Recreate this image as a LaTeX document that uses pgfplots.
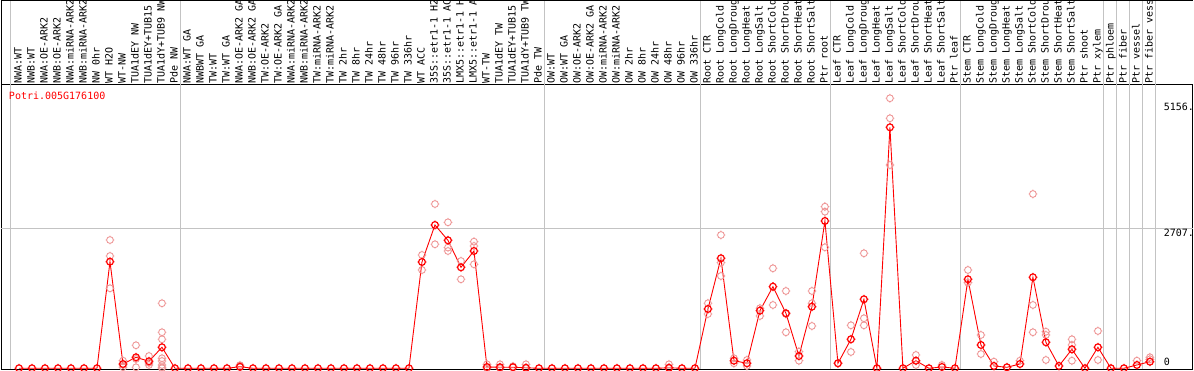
\documentclass[border=0pt]{standalone}
\usepackage{fontspec}
\setmainfont{DejaVu Sans Mono}
\usepackage{pgfplots}
\pgfplotsset{compat=1.18}
\definecolor{rep}{RGB}{238,150,150}
\definecolor{sep}{RGB}{195,195,195}
\pgfdeclareplotmark{tc}{%
  \pgfpathcircle{\pgfpointorigin}{\pgfplotmarksize}%
  \pgfpathmoveto{\pgfpoint{0pt}{\pgfplotmarksize}}\pgfpathlineto{\pgfpoint{0pt}{1.3\pgfplotmarksize}}%
  \pgfpathmoveto{\pgfpoint{0pt}{-\pgfplotmarksize}}\pgfpathlineto{\pgfpoint{0pt}{-1.3\pgfplotmarksize}}%
  \pgfpathmoveto{\pgfpoint{\pgfplotmarksize}{0pt}}\pgfpathlineto{\pgfpoint{1.3\pgfplotmarksize}{0pt}}%
  \pgfpathmoveto{\pgfpoint{-\pgfplotmarksize}{0pt}}\pgfpathlineto{\pgfpoint{-1.3\pgfplotmarksize}{0pt}}%
  \pgfusepathqstroke}
\begin{document}
\begin{tikzpicture}[font=\fontsize{10}{12}\selectfont]
\begin{axis}[at={(1.5pt,1pt)}, anchor=south west, scale only axis,
  width=1191.5pt, height=284pt,
  xmin=-1.346, xmax=90.31, ymin=-14, ymax=5490,
  axis line style={black, line width=1pt},
  ytick=\empty, xtick={0,...,87},
  xticklabels={NWA:WT,NWB:WT,NWA:OE-ARK2,NWB:OE-ARK2,NWA:miRNA-ARK2,NWB:miRNA-ARK2,NW 0hr,WT H2O,WT-NW,TUA1dEY NW,TUA1dEY+TUB15 NW,TUA1dY+TUB9 NW,Pde NW,
  NWA:WT GA,NWBWT GA,TW:WT,TW:WT GA,NWA:OE-ARK2 GA,NWB:OE-ARK2 GA,TW:OE-ARK2,TW:OE-ARK2 GA,NWA:miRNA-ARK2,NWB:miRNA-ARK2,TW:miRNA-ARK2,TW:miRNA-ARK2,TW 2hr,TW 8hr,TW 24hr,TW 48hr,TW 96hr,TW 336hr,WT ACC,35S::etr1-1 H2O,35S::etr1-1 ACC,LMX5::etr1-1 H2O,LMX5::etr1-1 ACC,WT-TW,TUA1dEY TW,TUA1dEY+TUB15 TW,TUA1dY+TUB9 TW,Pde TW,
  OW:WT,OW:WT GA,OW:OE-ARK2,OW:OE-ARK2 GA,OW:miRNA-ARK2,OW:miRNA-ARK2,OW 2hr,OW 8hr,OW 24hr,OW 48hr,OW 96hr,OW 336hr,
  Root CTR,Root LongCold,Root LongDrought,Root LongHeat,Root LongSalt,Root ShortCold,Root ShortDrought,Root ShortHeat,Root ShortSalt,Ptr root,
  Leaf CTR,Leaf LongCold,Leaf LongDrought,Leaf LongHeat,Leaf LongSalt,Leaf ShortCold,Leaf ShortDrought,Leaf ShortHeat,Leaf ShortSalt,Ptr leaf,
  Stem CTR,Stem LongCold,Stem LongDrought,Stem LongHeat,Stem LongSalt,Stem ShortCold,Stem ShortDrought,Stem ShortHeat,Stem ShortSalt,Ptr shoot,Ptr xylem,Ptr phloem,Ptr fiber,Ptr vessel,Ptr fiber vessel},
  xticklabel pos=upper, major tick length=0pt,
  xticklabel style={rotate=90, anchor=west, inner sep=1.5pt, text height=7.5pt, text depth=2pt, font=\fontsize{10}{12}\selectfont},
  clip=false]
\pgfplotsinvokeforeach{-0.65,12.4,40.4,52.4,62.4,72.4,83.4,84.4,85.4,86.4,87.4}{\draw[sep, line width=1pt] (axis cs:#1,-14) -- ++(0pt,369pt);}
\draw[sep, line width=1pt] (axis cs:-1.346,2707) -- (axis cs:90.31,2707);
\draw[black, line width=1pt] (axis cs:-1.346,5490) -- ++(0pt,85pt);
\draw[black, line width=1pt] (axis cs:-1.346,5490) ++(0pt,84.5pt) -- ++(1191.5pt,0pt);
\addplot[only marks, mark=tc, mark size=3.4pt, color=rep, line width=0.9pt] coordinates {
(7,2486)(7,2176)(7,1550)(8,147)(8,65)(8,20)(9,446)(9,180)(9,19)(10,238)(10,105)(10,64)
(11,1260)(11,698)(11,562)(11,194)(11,141)(11,64)(11,19)(11,0)(17,60)(17,20)
(31,2196)(31,1905)(32,3184)(32,2403)(33,2829)(33,2340)(33,2273)(34,2079)(34,1725)
(35,2454)(35,2370)(35,2015)(36,77)(36,0)(37,77)(37,0)(38,40)(39,77)(39,0)(50,77)(50,0)
(53,1260)(53,1052)(54,2583)(54,2047)(54,1789)(55,194)(55,97)(56,161)(56,45)(57,1163)(57,1014)
(58,1938)(58,1227)(59,1498)(59,1052)(59,698)(60,323)(60,147)(61,1498)(61,1260)(61,820)
(62,3132)(62,3035)(62,2345)(63,97)(64,833)(64,316)(65,2229)(65,969)(65,833)
(67,5233)(67,4845)(67,3940)(69,258)(69,64)(71,64)
(73,1905)(73,1659)(74,645)(74,277)(75,128)(77,147)(78,3378)(78,1227)(78,698)
(79,709)(79,645)(79,161)(81,562)(81,452)(81,147)(83,723)(83,161)(86,147)(87,213)(87,174)
};
\addplot[red, line width=0.9pt, mark=tc, mark size=3.4pt, mark options={line width=1.2pt}] coordinates {
(0,0)(1,0)(2,0)(3,0)(4,0)(5,0)(6,0)(7,2066)(8,83)(9,213)(10,136)(11,407)(12,0)
(13,0)(14,0)(15,0)(16,0)(17,30)(18,0)(19,0)(20,0)(21,0)(22,0)(23,0)(24,0)(25,0)(26,0)(27,0)(28,0)(29,0)(30,0)
(31,2060)(32,2777)(33,2480)(34,1957)(35,2273)(36,25)(37,20)(38,20)(39,10)(40,0)
(41,0)(42,0)(43,0)(44,0)(45,0)(46,0)(47,0)(48,0)(49,0)(50,10)(51,0)(52,0)
(53,1149)(54,2132)(55,147)(56,97)(57,1117)(58,1582)(59,1066)(60,238)(61,1194)(62,2855)
(63,97)(64,562)(65,1337)(66,0)(67,4670)(68,0)(69,147)(70,0)(71,25)(72,0)
(73,1725)(74,452)(75,45)(76,19)(77,83)(78,1764)(79,504)(80,45)(81,368)(82,0)(83,407)(84,0)(85,0)(86,64)(87,128)
};
\node[anchor=north west, inner sep=0pt, text=red] at ([xshift=7.3pt,yshift=-7pt]rel axis cs:0,1) {Potri.005G176100};
\node[anchor=west, inner sep=0pt] at (axis cs:88.05,5064) {5156.};
\node[anchor=west, inner sep=0pt] at (axis cs:88.05,2628) {2707.};
\node[anchor=west, inner sep=0pt] at (axis cs:88.05,128) {0};
\end{axis}
\pgfresetboundingbox
\path[use as bounding box] (0,0) rectangle (1194pt,370pt);
\end{tikzpicture}
\end{document}
